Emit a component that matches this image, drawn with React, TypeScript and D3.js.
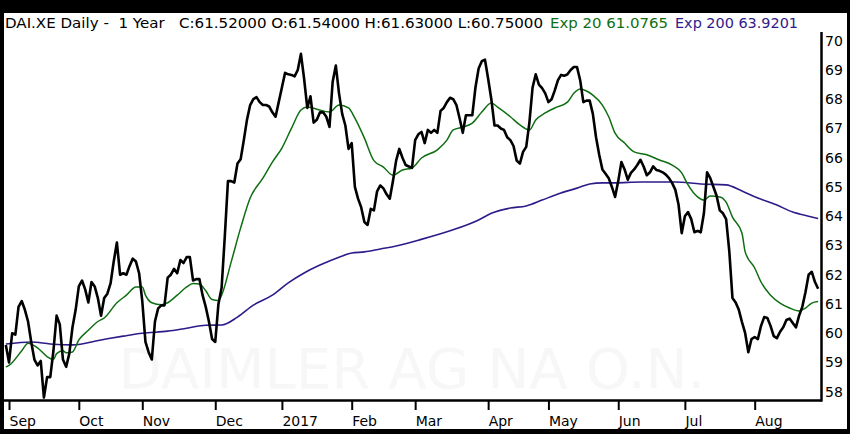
import React, { useRef, useEffect } from "react"
import * as d3 from "d3"

// daily closes, trading-day index 0..256 (end Aug 2016 -> end Aug 2017)
const closes = [
  59.6, 59.0, 60.0, 59.95, 60.9, 61.1, 60.8, 60.4, 59.7, 59.1,
  58.9, 59.05, 57.8, 58.5, 58.5, 59.4, 60.6, 60.3, 59.1, 58.85,
  59.3, 60.2, 60.8, 61.6, 61.8, 61.5, 61.05, 61.75, 61.6, 61.2,
  60.6, 61.2, 61.35, 61.7, 62.45, 63.1, 62.0, 62.05, 62.0, 62.3,
  62.55, 62.45, 62.05, 61.1, 59.7, 59.35, 59.1, 60.4, 60.85, 60.95,
  60.95, 61.9, 62.0, 62.2, 62.05, 62.5, 62.4, 62.6, 62.6, 61.8,
  61.85, 61.85, 61.3, 60.9, 60.4, 59.8, 59.7, 61.0, 61.55, 63.3,
  65.2, 65.2, 65.15, 65.8, 65.95, 66.6, 67.3, 67.8, 68.0, 68.07,
  67.9, 67.8, 67.8, 67.75, 67.55, 67.4, 67.9, 68.4, 68.9, 68.85,
  68.83, 68.78, 69.0, 69.55, 68.7, 67.7, 68.1, 67.2, 67.3, 67.55,
  67.55, 67.4, 67.05, 68.6, 69.15, 68.2, 67.5, 67.1, 66.3, 66.5,
  65.0, 64.6, 64.3, 63.8, 63.7, 64.25, 64.2, 64.85, 65.05, 64.95,
  64.75, 64.6, 65.2, 65.9, 66.3, 66.0, 65.75, 65.7, 65.65, 66.6,
  66.8, 66.88, 66.5, 66.95, 66.85, 66.95, 66.85, 67.6, 67.7, 67.9,
  68.05, 68.0, 67.8, 67.35, 66.85, 67.45, 67.45, 67.45, 68.4, 69.05,
  69.3, 69.35, 68.7, 68.0, 67.1, 67.1, 67.0, 66.95, 66.7, 66.6,
  66.4, 65.9, 65.8, 66.2, 66.37, 67.2, 68.4, 68.85, 68.5, 68.38,
  68.2, 67.9, 68.0, 68.3, 68.65, 68.83, 68.8, 68.85, 69.0, 69.1,
  69.1, 68.65, 67.9, 67.95, 67.95, 67.5, 66.7, 66.1, 65.6, 65.45,
  65.3, 65.0, 64.66, 65.2, 65.85, 65.6, 65.25, 65.48, 65.6, 65.75,
  65.93, 65.7, 65.4, 65.5, 65.7, 65.58, 65.55, 65.5, 65.42, 65.3,
  65.13, 64.9, 64.4, 63.42, 64.0, 64.14, 63.9, 63.45, 63.5, 63.45,
  64.1, 65.5, 65.3, 65.0, 64.7, 64.2, 64.1, 63.9, 62.8, 61.2,
  61.05, 60.8, 60.38, 60.0, 59.35, 59.8, 59.87, 59.8, 60.25, 60.55,
  60.52, 60.25, 59.9, 59.83, 60.05, 60.2, 60.45, 60.5, 60.35, 60.2,
  60.6, 60.9, 61.4, 62.0, 62.1, 61.75, 61.52,
]

// Exp 20 (day index, value)
const ema20Days = [
  0, 1, 5, 7, 10, 13, 15, 16, 18, 19, 21, 23, 26, 29, 31, 35, 38, 41, 43, 44,
  46, 49, 51, 54, 57, 59, 61, 63, 65, 67, 68, 71, 74, 77, 81, 84, 87, 90, 93, 95,
  98, 102, 105, 108, 110, 113, 116, 119, 122, 125, 128, 131, 136, 139, 141, 144, 147, 150, 153, 155,
  159, 162, 165, 167, 170, 173, 177, 179, 181, 183, 185, 188, 190, 192, 195, 198, 202, 206, 210, 213,
  215, 218, 220, 222, 225, 227, 229, 232, 233, 236, 238, 241, 244, 247, 250, 252, 254, 256,
]
const ema20Values = [
  58.85, 58.9, 59.4, 59.66, 59.5, 59.2, 59.1, 59.3, 59.4, 59.33, 59.36, 59.77, 60.1, 60.4, 60.52, 61.04, 61.3, 61.58, 61.58, 61.3,
  61.04, 60.97, 61.04, 61.3, 61.58, 61.7, 61.68, 61.45, 61.15, 61.12, 61.3, 62.43, 63.6, 64.62, 65.3, 65.85, 66.33, 67.0, 67.63, 67.73,
  67.66, 67.56, 67.8, 67.7, 67.35, 66.67, 65.9, 65.68, 65.4, 65.58, 65.65, 65.99, 66.27, 66.6, 66.95, 67.05, 67.18, 67.56, 67.87, 67.73,
  67.4, 67.12, 66.95, 67.29, 67.53, 67.7, 67.9, 68.2, 68.35, 68.28, 68.14, 67.8, 67.4, 66.84, 66.5, 66.2, 66.1, 65.92, 65.75, 65.48,
  65.07, 64.66, 64.55, 64.69, 64.66, 64.48, 63.97, 63.42, 62.78, 62.23, 61.75, 61.3, 61.03, 60.86, 60.76, 60.86, 61.03, 61.08,
]

// Exp 200 (day index, value)
const ema200Days = [
  0, 8, 14, 21, 30, 37, 43, 51, 57, 63, 68, 73, 78, 84, 89, 94, 99, 105, 109, 113,
  118, 123, 130, 140, 149, 153, 159, 164, 169, 174, 180, 184, 188, 192, 200, 211, 219, 227, 232, 237,
  243, 248, 253, 256,
]
const ema200Values = [
  59.63, 59.7, 59.63, 59.6, 59.77, 59.9, 60.0, 60.07, 60.17, 60.27, 60.28, 60.55, 60.96, 61.3, 61.72, 62.06, 62.33, 62.6, 62.74, 62.78,
  62.88, 62.98, 63.18, 63.5, 63.87, 64.1, 64.28, 64.35, 64.55, 64.76, 64.96, 65.1, 65.14, 65.14, 65.17, 65.17, 65.1, 65.07, 64.86, 64.62,
  64.38, 64.14, 64.0, 63.92,
]

const monthTickDays = [1, 23, 43, 66, 87, 109, 129, 152, 171, 193, 214, 236]
const monthLabels = ["Sep", "Oct", "Nov", "Dec", "2017", "Feb", "Mar", "Apr", "May", "Jun", "Jul", "Aug"]
const priceTicks = [58, 59, 60, 61, 62, 63, 64, 65, 66, 67, 68, 69, 70]

const GREEN = "#0f6e12"
const PURPLE = "#2f1a8a"
const FONT = "'DejaVu Sans', sans-serif"

const Chart: React.FC<{ width: number; height: number }> = ({ width, height }) => {
  const svgRef = useRef<SVGSVGElement | null>(null)

  useEffect(() => {
    if (!svgRef.current) return
    const svg = d3.select(svgRef.current)
    svg.selectAll("*").remove()

    const plot = { left: 4, right: 821, top: 30, bottom: 400 }

    const x = d3.scaleLinear().domain([-0.58, 256.9]).range([plot.left, plot.right])
    const y = d3.scaleLinear().domain([58, 70]).range([391.7, 40.7])

    // frame
    svg.append("rect").attr("width", width).attr("height", height).attr("fill", "#000")
    svg.append("rect").attr("x", 4).attr("y", 13).attr("width", 843).attr("height", 416).attr("fill", "#fff")

    // watermark
    svg.append("text")
      .attr("x", 412)
      .attr("y", 388)
      .attr("text-anchor", "middle")
      .attr("textLength", 587)
      .attr("lengthAdjust", "spacingAndGlyphs")
      .style("font-family", FONT)
      .style("font-size", "56px")
      .style("fill", "#f7f7f7")
      .text("DAIMLER AG NA O.N.")

    svg.append("clipPath").attr("id", "plotclip")
      .append("rect")
      .attr("x", plot.left).attr("y", plot.top)
      .attr("width", plot.right - plot.left).attr("height", plot.bottom - plot.top)

    const g = svg.append("g").attr("clip-path", "url(#plotclip)")

    const line = d3.line<[number, number]>().x((d) => x(d[0])).y((d) => y(d[1]))
    const smooth = d3.line<[number, number]>().x((d) => x(d[0])).y((d) => y(d[1])).curve(d3.curveMonotoneX)

    g.append("path")
      .datum(ema200Days.map((d, i) => [d, ema200Values[i]] as [number, number]))
      .attr("fill", "none").attr("stroke", PURPLE).attr("stroke-width", 1.6)
      .attr("d", smooth)

    g.append("path")
      .datum(ema20Days.map((d, i) => [d, ema20Values[i]] as [number, number]))
      .attr("fill", "none").attr("stroke", GREEN).attr("stroke-width", 1.5)
      .attr("d", smooth)

    g.append("path")
      .datum(closes.map((v, i) => [i, v] as [number, number]))
      .attr("fill", "none").attr("stroke", "#000").attr("stroke-width", 2.6)
      .attr("stroke-linejoin", "round")
      .attr("d", line)

    // bottom axis with month ticks
    const xAxis = svg.append("g")
      .attr("transform", `translate(0,${plot.bottom})`)
      .call(
        d3.axisBottom(x)
          .tickValues(monthTickDays)
          .tickSize(10)
          .tickPadding(4)
          .tickFormat((_, i) => monthLabels[i])
      )
    xAxis.select(".domain").remove()
    xAxis.selectAll(".tick line").attr("stroke", "#000").attr("stroke-width", 2)
    xAxis.selectAll(".tick text")
      .attr("text-anchor", "start")
      .attr("x", 0)
      .attr("dy", "0.85em")
      .style("font-family", FONT)
      .style("font-size", "14px")
      .style("fill", "#000")

    svg.append("line")
      .attr("x1", plot.left).attr("x2", plot.right + 1)
      .attr("y1", plot.bottom + 0.5).attr("y2", plot.bottom + 0.5)
      .attr("stroke", "#000").attr("stroke-width", 2.5)

    // right price axis
    svg.append("line")
      .attr("x1", plot.right + 0.5).attr("x2", plot.right + 0.5)
      .attr("y1", 32).attr("y2", plot.bottom + 1.5)
      .attr("stroke", "#000").attr("stroke-width", 2.5)

    const yAxis = svg.append("g")
      .attr("transform", `translate(${plot.right + 2},0)`)
      .call(d3.axisRight(y).tickValues(priceTicks).tickSize(0).tickPadding(2).tickFormat(d3.format("d")))
    yAxis.select(".domain").remove()
    yAxis.selectAll(".tick text")
      .style("font-family", FONT)
      .style("font-size", "14px")
      .style("fill", "#000")

    // header
    const header = [
      { text: "DAI.XE Daily -  1 Year   C:61.52000 O:61.54000 H:61.63000 L:60.75000", x: 5, len: 538, color: "#000" },
      { text: "Exp 20 61.0765", x: 550, len: 118, color: GREEN },
      { text: "Exp 200 63.9201", x: 675, len: 123, color: PURPLE },
    ]
    header.forEach((h) => {
      svg.append("text")
        .attr("x", h.x)
        .attr("y", 28)
        .attr("textLength", h.len)
        .attr("lengthAdjust", "spacingAndGlyphs")
        .attr("xml:space", "preserve")
        .style("white-space", "pre")
        .style("font-family", FONT)
        .style("font-size", "14px")
        .style("fill", h.color)
        .text(h.text)
    })
  }, [width, height])

  return (
    <svg
      ref={svgRef}
      width={width}
      height={height}
      style={{ position: "absolute", left: 0, top: 0, display: "block" }}
    ></svg>
  )
}

export default function App() {
  return <Chart width={850} height={434} />
}
